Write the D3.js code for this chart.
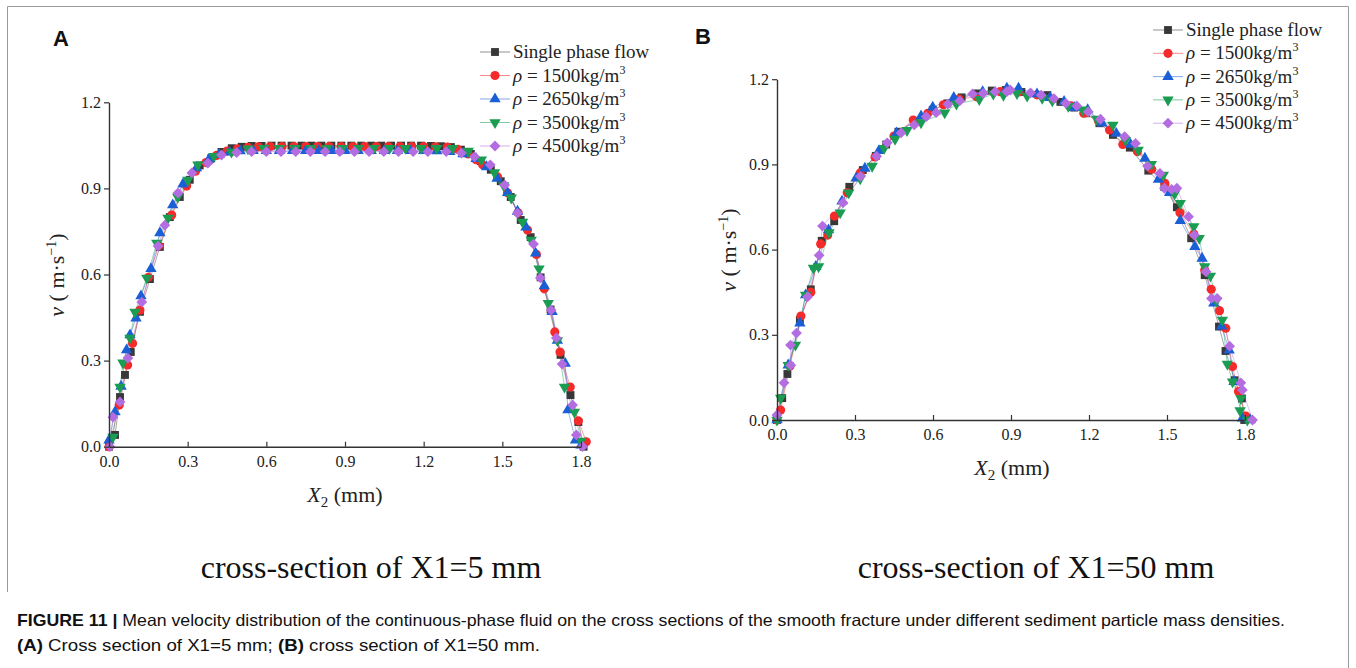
<!DOCTYPE html>
<html><head><meta charset="utf-8">
<script src="https://cdn.jsdelivr.net/npm/d3@7"></script>
<style>
body{margin:0;background:#fff}
svg{display:block}
.tk text{font-family:"Liberation Serif","Times New Roman",serif;font-size:16px;fill:#222}
</style></head><body>
<svg id="fig" width="1356" height="668"></svg>
<script>
const LEGEND = ['Single phase flow', '1500', '2650', '3500', '4500'];
const XTICKS = [0, 0.3, 0.6, 0.9, 1.2, 1.5, 1.8];
const YTICKS = [0, 0.3, 0.6, 0.9, 1.2];

// panel A : cross-section X1 = 5 mm   ([X2 mm, v m/s])
const A_single = [[0,0],[0.023,0.041],[0.042,0.173],[0.061,0.25],[0.083,0.33],[0.118,0.47],[0.156,0.584],[0.194,0.696],[0.232,0.8],[0.27,0.87],[0.308,0.93],[0.346,0.98],[0.39,1.005],[0.429,1.027],[0.468,1.04],[0.506,1.045],[0.544,1.048],[0.582,1.048],[0.62,1.049],[0.658,1.049],[0.696,1.049],[0.734,1.049],[0.772,1.049],[0.81,1.049],[0.848,1.049],[0.886,1.049],[0.924,1.049],[0.962,1.049],[1.0,1.049],[1.038,1.049],[1.076,1.049],[1.114,1.049],[1.152,1.049],[1.19,1.049],[1.228,1.048],[1.266,1.047],[1.304,1.044],[1.342,1.035],[1.38,1.02],[1.418,0.995],[1.456,0.965],[1.494,0.925],[1.532,0.87],[1.57,0.79],[1.608,0.73],[1.646,0.59],[1.684,0.478],[1.722,0.32],[1.76,0.18],[1.79,0.086],[1.81,0]];
const A_1500 = [[0,0],[0.039,0.145],[0.071,0.285],[0.09,0.36],[0.118,0.476],[0.15,0.59],[0.19,0.7],[0.239,0.807],[0.296,0.908],[0.33,0.96],[0.37,0.99],[0.41,1.015],[0.45,1.03],[0.49,1.038],[0.53,1.043],[0.57,1.045],[0.615,1.046],[0.66,1.046],[0.705,1.046],[0.75,1.046],[0.795,1.046],[0.84,1.046],[0.885,1.046],[0.93,1.046],[0.975,1.046],[1.02,1.046],[1.065,1.046],[1.11,1.046],[1.155,1.046],[1.2,1.046],[1.245,1.045],[1.29,1.044],[1.33,1.036],[1.37,1.02],[1.4,1.0],[1.425,0.982],[1.482,0.94],[1.52,0.885],[1.56,0.815],[1.596,0.755],[1.63,0.67],[1.66,0.55],[1.7,0.4],[1.72,0.33],[1.759,0.208],[1.79,0.09],[1.82,0.017]];
const A_2650 = [[0,0.023],[0.023,0.121],[0.046,0.21],[0.067,0.337],[0.08,0.389],[0.103,0.448],[0.122,0.525],[0.16,0.62],[0.194,0.745],[0.243,0.842],[0.282,0.915],[0.334,0.971],[0.38,1.0],[0.42,1.018],[0.46,1.026],[0.5,1.03],[0.55,1.031],[0.6,1.031],[0.65,1.031],[0.7,1.031],[0.75,1.031],[0.8,1.031],[0.85,1.031],[0.9,1.031],[0.95,1.031],[1.0,1.031],[1.05,1.031],[1.1,1.031],[1.15,1.031],[1.2,1.031],[1.25,1.03],[1.3,1.028],[1.35,1.02],[1.4,1.003],[1.44,0.975],[1.48,0.935],[1.52,0.885],[1.558,0.82],[1.59,0.765],[1.627,0.674],[1.66,0.56],[1.69,0.47],[1.71,0.37],[1.74,0.29],[1.75,0.128],[1.779,0.023],[1.8,0.005]];
const A_3500 = [[0.015,0.034],[0.042,0.208],[0.053,0.292],[0.08,0.379],[0.099,0.469],[0.144,0.588],[0.182,0.71],[0.225,0.797],[0.262,0.87],[0.301,0.929],[0.339,0.982],[0.4,1.012],[0.467,1.027],[0.53,1.038],[0.59,1.04],[0.65,1.04],[0.71,1.04],[0.77,1.04],[0.83,1.04],[0.89,1.04],[0.95,1.04],[1.01,1.04],[1.07,1.04],[1.13,1.04],[1.19,1.04],[1.25,1.04],[1.31,1.04],[1.37,1.03],[1.42,1.0],[1.47,0.955],[1.505,0.91],[1.534,0.867],[1.577,0.783],[1.61,0.72],[1.64,0.62],[1.675,0.5],[1.71,0.37],[1.737,0.208],[1.775,0.121],[1.8,0.02]];
const A_4500 = [[0.004,0],[0.015,0.103],[0.042,0.156],[0.072,0.309],[0.125,0.504],[0.187,0.699],[0.213,0.772],[0.263,0.884],[0.316,0.954],[0.377,0.988],[0.429,1.016],[0.487,1.025],[0.544,1.028],[0.6,1.028],[0.656,1.028],[0.712,1.028],[0.768,1.028],[0.824,1.028],[0.88,1.028],[0.936,1.028],[0.992,1.028],[1.048,1.028],[1.104,1.028],[1.16,1.028],[1.216,1.028],[1.286,1.028],[1.344,1.023],[1.394,1.01],[1.454,0.982],[1.509,0.912],[1.558,0.814],[1.619,0.706],[1.645,0.588],[1.686,0.476],[1.706,0.379],[1.728,0.288],[1.768,0.145],[1.782,0.041],[1.806,0]];

// panel B : cross-section X1 = 50 mm
const B_single = [[0,0],[0.02,0.077],[0.04,0.162],[0.088,0.352],[0.13,0.46],[0.172,0.631],[0.22,0.7],[0.278,0.821],[0.33,0.88],[0.38,0.93],[0.42,0.97],[0.467,1.015],[0.53,1.05],[0.599,1.092],[0.655,1.115],[0.71,1.136],[0.77,1.15],[0.826,1.16],[0.88,1.162],[0.94,1.155],[1.04,1.144],[1.09,1.12],[1.143,1.1],[1.188,1.08],[1.24,1.045],[1.292,1.004],[1.357,0.959],[1.428,0.878],[1.49,0.82],[1.538,0.749],[1.593,0.64],[1.645,0.51],[1.7,0.329],[1.725,0.243],[1.76,0.14],[1.788,0.076],[1.797,0]];
const B_1500 = [[0,0],[0.014,0.035],[0.05,0.19],[0.092,0.366],[0.13,0.45],[0.168,0.62],[0.195,0.651],[0.221,0.718],[0.27,0.8],[0.32,0.87],[0.377,0.926],[0.45,1.0],[0.524,1.056],[0.58,1.08],[0.64,1.11],[0.7,1.13],[0.768,1.138],[0.858,1.156],[0.93,1.155],[1.0,1.145],[1.06,1.13],[1.13,1.106],[1.18,1.08],[1.236,1.054],[1.279,1.021],[1.33,0.97],[1.386,0.945],[1.441,0.883],[1.492,0.833],[1.55,0.73],[1.603,0.655],[1.645,0.528],[1.67,0.46],[1.702,0.385],[1.726,0.323],[1.752,0.188],[1.775,0.1],[1.803,0.014]];
const B_2650 = [[0,0],[0.043,0.193],[0.088,0.341],[0.11,0.44],[0.149,0.54],[0.198,0.669],[0.25,0.77],[0.304,0.851],[0.338,0.886],[0.392,0.948],[0.46,1.01],[0.554,1.07],[0.599,1.101],[0.68,1.135],[0.791,1.156],[0.884,1.168],[0.929,1.168],[1.0,1.148],[1.05,1.135],[1.104,1.121],[1.143,1.1],[1.195,1.092],[1.25,1.045],[1.305,1.009],[1.36,0.97],[1.415,0.921],[1.467,0.847],[1.51,0.8],[1.551,0.702],[1.607,0.61],[1.635,0.569],[1.68,0.411],[1.71,0.33],[1.739,0.246],[1.758,0.135],[1.79,0.006],[1.82,0]];
const B_3500 = [[0,0],[0.014,0.077],[0.043,0.193],[0.071,0.264],[0.11,0.44],[0.14,0.535],[0.16,0.54],[0.2,0.66],[0.243,0.73],[0.276,0.8],[0.32,0.85],[0.366,0.894],[0.412,0.957],[0.454,0.989],[0.5,1.02],[0.554,1.047],[0.645,1.082],[0.69,1.113],[0.778,1.129],[0.832,1.148],[0.871,1.144],[0.923,1.15],[0.962,1.141],[1.02,1.133],[1.059,1.124],[1.12,1.105],[1.176,1.092],[1.23,1.06],[1.292,1.039],[1.34,0.985],[1.389,0.951],[1.44,0.9],[1.486,0.863],[1.529,0.796],[1.551,0.763],[1.603,0.681],[1.624,0.64],[1.645,0.54],[1.667,0.507],[1.69,0.42],[1.713,0.352],[1.732,0.197],[1.752,0.135],[1.784,0.076],[1.781,0.033],[1.809,0]];
const B_4500 = [[0,0.018],[0.027,0.131],[0.053,0.193],[0.052,0.264],[0.075,0.306],[0.118,0.434],[0.162,0.58],[0.175,0.683],[0.254,0.765],[0.321,0.858],[0.383,0.929],[0.424,0.976],[0.477,1.011],[0.528,1.039],[0.574,1.068],[0.612,1.082],[0.657,1.112],[0.703,1.124],[0.752,1.148],[0.793,1.15],[0.839,1.156],[0.884,1.156],[0.897,1.162],[0.975,1.152],[1.016,1.144],[1.065,1.132],[1.111,1.115],[1.153,1.106],[1.197,1.085],[1.244,1.059],[1.337,0.998],[1.379,0.974],[1.425,0.894],[1.473,0.868],[1.49,0.816],[1.518,0.812],[1.538,0.816],[1.583,0.716],[1.605,0.651],[1.65,0.522],[1.671,0.428],[1.693,0.428],[1.741,0.26],[1.784,0.131],[1.79,0.106],[1.829,0]];

const COLORS = ['#383838', '#f52b2b', '#1a5fd6', '#1a9c52', '#b46de0'];
const KINDS = ['square', 'circle', 'up', 'down', 'diamond'];

const svg = d3.select('#fig');
const serif = '"Liberation Serif","Times New Roman",serif';
const sans = '"Liberation Sans",Arial,sans-serif';

// figure frame
svg.append('path').attr('d', 'M7.5,592 V6.5 H1348.5 V668')
  .attr('fill', 'none').attr('stroke', '#9a9a9a').attr('stroke-width', 1);

function symbolPath(kind) {
  if (kind === 'square') return d3.symbol(d3.symbolSquare, 62)();
  if (kind === 'circle') return d3.symbol(d3.symbolCircle, 66)();
  if (kind === 'diamond') return d3.symbol(d3.symbolSquare, 58)();
  return d3.symbol(d3.symbolTriangle, 56)();
}
function symbolRot(kind) {
  return kind === 'diamond' ? 45 : kind === 'down' ? 180 : 0;
}

function drawPanel(p) {
  const x = d3.scaleLinear().domain([0, 1.8]).range(p.xr);
  const y = d3.scaleLinear().domain([0, 1.2]).range(p.yr);
  const g = svg.append('g');

  // series lines then markers
  p.series.forEach((data, i) => {
    g.append('path').datum(data)
      .attr('d', d3.line().x(d => x(d[0])).y(d => y(d[1])))
      .attr('fill', 'none').attr('stroke', COLORS[i]).attr('stroke-width', 0.8).attr('stroke-opacity', 0.55);
  });
  p.series.forEach((data, i) => {
    g.append('g').selectAll('path').data(data).join('path')
      .attr('d', symbolPath(KINDS[i]))
      .attr('transform', d => `translate(${x(d[0])},${y(d[1])}) rotate(${symbolRot(KINDS[i])})`)
      .attr('fill', COLORS[i]);
  });

  // axes
  const ya = g.append('g').attr('class', 'tk').attr('transform', `translate(${p.xr[0]},0)`)
    .call(d3.axisLeft(y).tickValues(YTICKS).tickFormat(d3.format('.1f')).tickSize(5).tickSizeOuter(0).tickPadding(3));
  const xa = g.append('g').attr('class', 'tk').attr('transform', `translate(0,${p.yr[0]})`)
    .call(d3.axisBottom(x).tickValues(XTICKS).tickFormat(d3.format('.1f')).tickSizeInner(-5).tickSizeOuter(0).tickPadding(9));
  [ya, xa].forEach(a => {
    a.select('.domain').attr('stroke', '#333').attr('stroke-width', 1.4);
    a.selectAll('.tick line').attr('stroke', '#333').attr('stroke-width', 1.2);
  });

  // axis titles
  const yl = g.append('text').attr('transform', `translate(${p.yl[0]},${p.yl[1]}) rotate(-90)`)
    .attr('text-anchor', 'middle').attr('font-family', serif).attr('font-size', 22).attr('fill', '#222');
  yl.append('tspan').attr('font-style', 'italic').text('v');
  yl.append('tspan').text(' ( m·s');
  yl.append('tspan').attr('font-size', 14).attr('dy', -8).text('−1');
  yl.append('tspan').attr('dy', 8).text(')');

  const xl = g.append('text').attr('x', p.xl[0]).attr('y', p.xl[1])
    .attr('text-anchor', 'middle').attr('font-family', serif).attr('font-size', 22).attr('fill', '#222');
  xl.append('tspan').attr('font-style', 'italic').text('X');
  xl.append('tspan').attr('font-size', 15).attr('dy', 5).text('2');
  xl.append('tspan').attr('dy', -5).text(' (mm)');

  // panel letter
  svg.append('text').attr('x', p.letter[0]).attr('y', p.letter[1])
    .attr('font-family', sans).attr('font-weight', 'bold').attr('font-size', 22).attr('fill', '#111').text(p.name);

  // legend
  const lg = svg.append('g').attr('transform', `translate(${p.leg[0]},${p.leg[1]})`);
  LEGEND.forEach((lab, i) => {
    const r = lg.append('g').attr('transform', `translate(0,${i * p.leg[2]})`);
    r.append('line').attr('x1', 0).attr('x2', 30).attr('stroke', COLORS[i]).attr('stroke-width', 1).attr('stroke-opacity', 0.55);
    r.append('path').attr('d', symbolPath(KINDS[i]))
      .attr('transform', `translate(15,0) rotate(${symbolRot(KINDS[i])})`).attr('fill', COLORS[i]);
    const t = r.append('text').attr('x', 33).attr('y', 6)
      .attr('font-family', serif).attr('font-size', 19).attr('fill', '#222');
    if (i === 0) t.text(lab);
    else {
      t.append('tspan').attr('font-style', 'italic').text('ρ');
      t.append('tspan').text(' = ' + lab + 'kg/m');
      t.append('tspan').attr('font-size', 12).attr('dy', -8).text('3');
    }
  });

  // cross-section title
  svg.append('text').attr('x', p.sub[0]).attr('y', p.sub[1]).attr('text-anchor', 'middle')
    .attr('font-family', serif).attr('font-size', 32).attr('fill', '#111').text(p.subText);
}

drawPanel({
  name: 'A', series: [A_single, A_1500, A_2650, A_3500, A_4500],
  xr: [109, 581], yr: [446.7, 102.3], yl: [64, 275], xl: [345, 502],
  letter: [53, 46], leg: [480, 52, 23.5], sub: [371, 578], subText: 'cross-section of X1=5 mm'
});
drawPanel({
  name: 'B', series: [B_single, B_1500, B_2650, B_3500, B_4500],
  xr: [777, 1245], yr: [420, 79.2], yl: [736, 250], xl: [1012, 475],
  letter: [695, 44], leg: [1153, 30, 23.3], sub: [1036, 578], subText: 'cross-section of X1=50 mm'
});

// caption (condensed sans in the source, fitted to its width)
const cap = svg.append('g').attr('font-family', sans).attr('font-size', 16.5).attr('fill', '#111');
const c1 = cap.append('text').attr('x', 17).attr('y', 626)
  .attr('textLength', 1268).attr('lengthAdjust', 'spacingAndGlyphs');
c1.append('tspan').attr('font-weight', 'bold').text('FIGURE 11 | ');
c1.append('tspan').text('Mean velocity distribution of the continuous-phase fluid on the cross sections of the smooth fracture under different sediment particle mass densities.');
const c2 = cap.append('text').attr('x', 17).attr('y', 651)
  .attr('textLength', 523).attr('lengthAdjust', 'spacingAndGlyphs');
c2.append('tspan').attr('font-weight', 'bold').text('(A)');
c2.append('tspan').text(' Cross section of X1=5 mm; ');
c2.append('tspan').attr('font-weight', 'bold').text('(B)');
c2.append('tspan').text(' cross section of X1=50 mm.');
</script>
</body></html>
